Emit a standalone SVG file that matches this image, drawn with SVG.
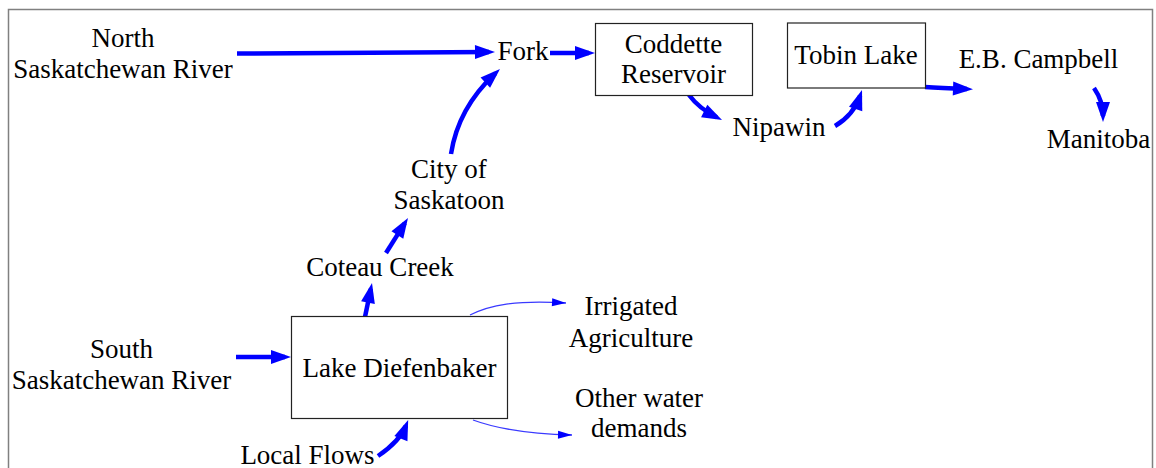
<svg xmlns="http://www.w3.org/2000/svg" width="1156" height="468" viewBox="0 0 1156 468" font-family="'Liberation Serif', 'Times New Roman', serif">
  <style>
    text { font-family: "Liberation Serif", "Times New Roman", serif; font-size: 27px; fill: #000; text-anchor: middle; }
    .box { fill: #fff; stroke: #222; stroke-width: 1.2; }
    .flow { fill: none; stroke: #0000ff; stroke-width: 4.5; stroke-linecap: butt; marker-end: url(#head); }
    .thin { fill: none; stroke: #3a3aff; stroke-width: 1.3; marker-end: url(#thinhead); }
  </style>
  <defs>
    <marker id="head" markerUnits="userSpaceOnUse" markerWidth="20" markerHeight="14" refX="14" refY="7" orient="auto" overflow="visible">
      <path d="M0,0 L20,7 L0,14 Z" fill="#0000ff"/>
    </marker>
    <marker id="thinhead" markerUnits="userSpaceOnUse" markerWidth="14" markerHeight="8" refX="14" refY="4" orient="auto" overflow="visible">
      <path d="M0,0 L14,4 L0,8 Z" fill="#0000ff"/>
    </marker>
  </defs>
  <rect x="8.5" y="9.5" width="1144" height="480" fill="#fff" stroke="#808080" stroke-width="1.5"/>

  <g id="connectors">
    <path class="flow" d="M237,53.5 L489,52"/>
    <path class="flow" d="M550,53 L589,53"/>
    <path class="flow" d="M451,154 Q458,108 495.6,73.1"/>
    <path class="flow" d="M386,253 L404.8,223.1"/>
    <path class="flow" d="M365,317 L370.8,288.9"/>
    <path class="flow" d="M236,357 L285,357"/>
    <path class="flow" d="M378,456 Q400,441 406,425.6"/>
    <path class="flow" d="M689,95 Q699,108.4 716.7,117.3"/>
    <path class="flow" d="M835,126 Q853.6,115 860.1,95.7"/>
    <path class="flow" d="M925,87 Q940,88 967,89"/>
    <path class="flow" d="M1094,88 Q1103,101 1103,116"/>
    <path class="thin" d="M470,315 C490,305 515,300 566,303"/>
    <path class="thin" d="M473,420 C495,428 525,434 572,435"/>
  </g>

  <g id="north-river"><text x="123" y="47">North</text><text x="123" y="78">Saskatchewan River</text></g>
  <g id="fork"><text x="523" y="60">Fork</text></g>
  <g id="coddette"><rect class="box" x="595.5" y="23.5" width="157" height="72"/><text x="673.5" y="53">Coddette</text><text x="673.5" y="83">Reservoir</text></g>
  <g id="tobin"><rect class="box" x="787.5" y="23" width="138" height="65"/><text x="856" y="64">Tobin Lake</text></g>
  <g id="eb-campbell"><text x="1038.5" y="68">E.B. Campbell</text></g>
  <g id="manitoba"><text x="1098.5" y="148">Manitoba</text></g>
  <g id="nipawin"><text x="779" y="136">Nipawin</text></g>
  <g id="saskatoon"><text x="449" y="178">City of</text><text x="449" y="209">Saskatoon</text></g>
  <g id="coteau"><text x="380" y="276">Coteau Creek</text></g>
  <g id="diefenbaker"><rect class="box" x="291.5" y="316.5" width="216" height="102"/><text x="399.5" y="377">Lake Diefenbaker</text></g>
  <g id="south-river"><text x="121.5" y="358">South</text><text x="121.5" y="389">Saskatchewan River</text></g>
  <g id="local-flows"><text x="307.5" y="464">Local Flows</text></g>
  <g id="irrigated"><text x="631" y="315">Irrigated</text><text x="631" y="347">Agriculture</text></g>
  <g id="other-demands"><text x="639" y="407">Other water</text><text x="639" y="437">demands</text></g>
</svg>
